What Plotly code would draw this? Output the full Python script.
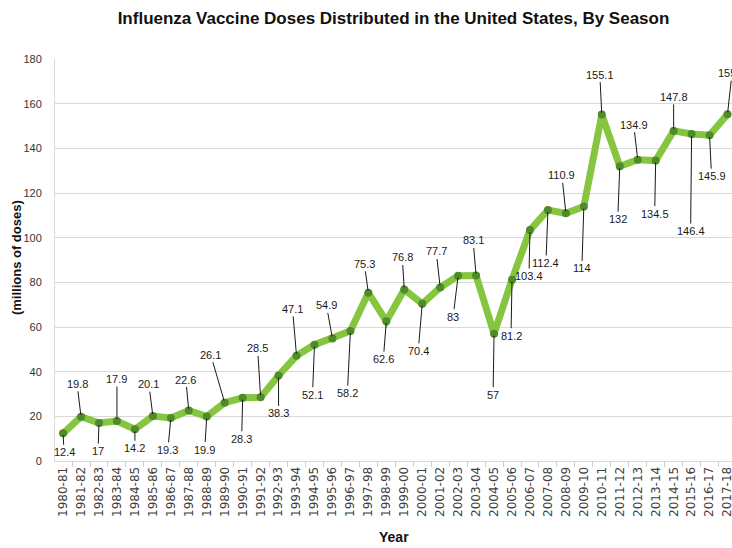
import plotly.graph_objects as go

seasons = ["1980-81","1981-82","1982-83","1983-84","1984-85","1985-86","1986-87","1987-88",
           "1988-89","1989-90","1990-91","1991-92","1992-93","1993-94","1994-95","1995-96",
           "1996-97","1997-98","1998-99","1999-00","2000-01","2001-02","2002-03","2003-04",
           "2004-05","2005-06","2006-07","2007-08","2008-09","2009-10","2010-11","2011-12",
           "2012-13","2013-14","2014-15","2015-16","2016-17","2017-18"]
doses = [12.4, 19.8, 17, 17.9, 14.2, 20.1, 19.3, 22.6, 19.9, 26.1, 28.3, 28.5, 38.3, 47.1,
         52.1, 54.9, 58.2, 75.3, 62.6, 76.8, 70.4, 77.7, 83, 83.1, 57, 81.2, 103.4, 112.4,
         110.9, 114, 155.1, 132, 134.9, 134.5, 147.8, 146.4, 145.9, 155.3]
labels = ["12.4","19.8","17","17.9","14.2","20.1","19.3","22.6","19.9","26.1","28.3","28.5",
          "38.3","47.1","52.1","54.9","58.2","75.3","62.6","76.8","70.4","77.7","83","83.1",
          "57","81.2","103.4","112.4","110.9","114","155.1","132","134.9","134.5","147.8",
          "146.4","145.9","155.3"]

# label offsets (pixels) relative to each point
label_dx = [1, -4, -1, 0, 0, -4, -3, -3, -2, -14, -1, -3, 0, -4, -2, -6, -3, -4, -3, -2, -4,
            -4, -5, -3, -1, -1, -1, -2, -4, -2, -2, -2, -4, -1, 0, -1, 2, 8]
label_dy = [19, -33, 28, -42, 19, -32, 32, -31, 33, -48, 41, -49, 38, -47, 50, -33, 62, -29,
            38, -32, 47, -36, 41, -35, 61, 56, 46, 53, -38, 62, -40, 53, -35, 53, -34, 97, 41, -41]

sans = "Liberation Sans, Arial, sans-serif"

fig = go.Figure()
fig.add_trace(go.Scatter(
    x=seasons, y=doses, mode="lines+markers",
    line=dict(color="#86C540", width=7),
    marker=dict(color="#4F8A2B", size=8, line=dict(width=0)),
    hoverinfo="skip", showlegend=False, cliponaxis=False,
))

for i, (s, v, t) in enumerate(zip(seasons, doses, labels)):
    fig.add_annotation(
        x=s, y=v, text=t, showarrow=True, arrowhead=0, arrowwidth=1, arrowcolor="#1a1a1a",
        ax=label_dx[i], ay=label_dy[i], standoff=2, startstandoff=0,
        font=dict(family=sans, size=11, color="#1a1a1a"),
    )

fig.add_annotation(
    text="<b>(millions of doses)</b>", xref="paper", yref="paper",
    x=-0.056, y=0.505, xanchor="center", yanchor="middle", textangle=-90, showarrow=False,
    font=dict(family=sans, size=13, color="#111111"),
)
fig.add_annotation(
    text="<b>Year</b>", xref="paper", yref="paper",
    x=0.5, y=-0.189, xanchor="center", yanchor="middle", showarrow=False,
    font=dict(family=sans, size=14, color="#111111"),
)

fig.update_layout(
    width=732, height=548,
    margin=dict(l=55, r=0, t=59, b=87),
    paper_bgcolor="white", plot_bgcolor="white",
    title=dict(text="<b>Influenza Vaccine Doses Distributed in the United States, By Season</b>",
               x=0.5, xanchor="center", xref="paper", y=0.967, yanchor="middle",
               font=dict(family=sans, size=17, color="#111111")),
    xaxis=dict(
        type="category", categoryorder="array", categoryarray=seasons,
        tickangle=-90, range=[-0.45, 37.25], tickson="boundaries",
        ticks="outside", ticklen=5, tickcolor="#d0d0d0", automargin=False,
        showline=True, linecolor="#d9d9d9", linewidth=1, showgrid=False, zeroline=False,
        tickfont=dict(family="DejaVu Sans, Verdana, sans-serif", size=12, color="#404040"),
    ),
    yaxis=dict(
        range=[0, 180], tickmode="array", tickvals=list(range(0, 181, 20)), automargin=False,
        showgrid=True, gridcolor="#d9d9d9", gridwidth=1, zeroline=False,
        showline=True, linecolor="#d9d9d9", linewidth=1, ticks="", ticklabelstandoff=10,
        tickfont=dict(family=sans, size=11, color="#333333"),
    ),
)

fig.write_html("out.html", config={"displayModeBar": False},
               post_script="document.body.style.margin='0px';")
